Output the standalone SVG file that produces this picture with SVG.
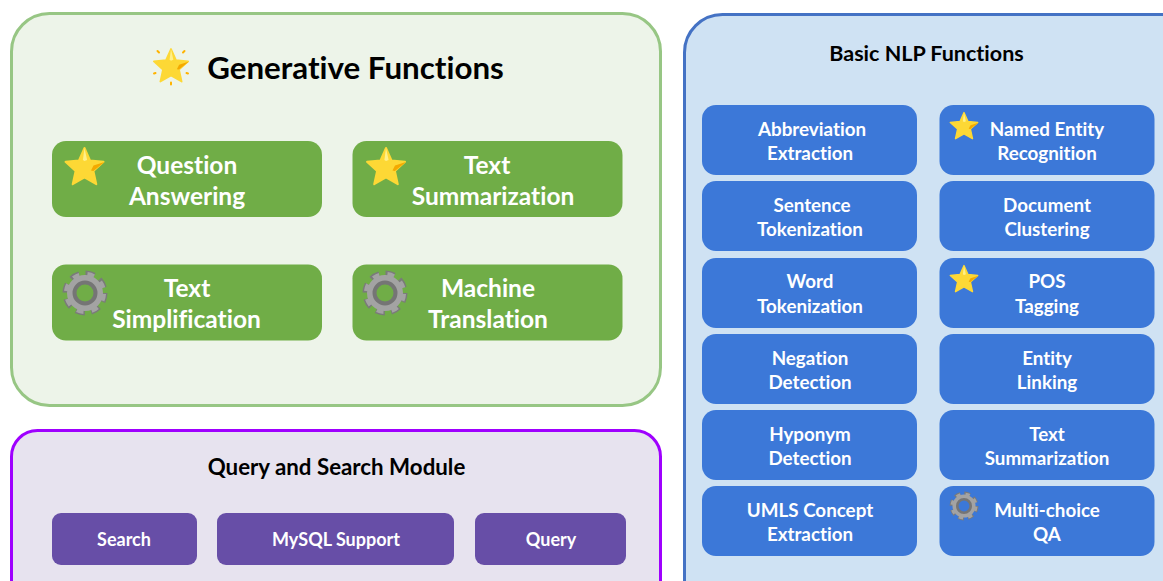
<svg xmlns="http://www.w3.org/2000/svg" xmlns:xlink="http://www.w3.org/1999/xlink" width="1163" height="581" viewBox="0 0 1163 581">
<style>
text{font-family:Lato,"Open Sans",sans-serif;font-weight:700;text-anchor:middle;font-variant-ligatures:none}
.g{fill:#70ad47}.b{fill:#3c78d8}.p{fill:#674ea7}
.tg{fill:#fff;font-size:24.5px}.tb{fill:#fff;font-size:18.8px}.tp{fill:#fff;font-size:18px}
.h{fill:#000;font-size:21.5px}
</style>
<defs>
<g id="star">
<path d="M0,-20 5.5,-7.6 19,-6.2 8.9,2.9 11.8,16.2 0,9.4 -11.8,16.2 -8.9,2.9 -19,-6.2 -5.5,-7.6Z" fill="#fdd835" stroke="#fdd835" stroke-width="2" stroke-linejoin="round"/>
<path d="M0,-20 2.6,-8 0,-7 -1.6,-8Z" fill="#fff08a"/>
<path d="M20,-6 9,-2.5 6.5,2.5 8.9,2.9Z" fill="#f4a900"/>
</g>
<g id="gear" fill="none">
<circle r="18.500" stroke="#7a7a7a" stroke-width="8" stroke-dasharray="8.500 6.020"/>
<circle r="18.300" stroke="#a3a3a3" stroke-width="5.500" stroke-dasharray="6.500 8.020" stroke-dashoffset="-1"/>
<circle r="14.500" stroke="#a3a3a3" stroke-width="7"/>
<circle r="10.500" stroke="#757575" stroke-width="4"/>
</g>
</defs>
<g id="generative-panel">
<rect x="11.500" y="13.500" width="649" height="392" rx="38" fill="#edf4e9" stroke="#97c684" stroke-width="3"/>
<use xlink:href="#star" href="#star" transform="translate(171,67) scale(.9)"/>
<g stroke="#ffb300" stroke-width="2" stroke-linecap="round"><path d="M171,82.500V84.500M159,52.500l-1.500,-1.500M183,52.500l1.500,-1.500M155.500,73l-1.500,.5M186.500,73l1.500,.5"/></g>
<text x="355.500" y="78.500" style="font-size:31.300px">Generative Functions</text>
</g>
<g id="question-answering"><rect class="g" x="52" y="141" width="270" height="76" rx="14"/><use href="#star" transform="translate(84.500,168)"/><text class="tg" x="187" y="174">Question</text><text class="tg" x="187" y="205">Answering</text></g>
<g id="text-summarization"><rect class="g" x="352.500" y="141" width="270" height="76" rx="14"/><use href="#star" transform="translate(386,168)"/><text class="tg" x="487" y="174">Text</text><text class="tg" x="493" y="205">Summarization</text></g>
<g id="text-simplification"><rect class="g" x="52" y="264.500" width="270" height="76" rx="14"/><use href="#gear" transform="translate(85,293)"/><text class="tg" x="187" y="297">Text</text><text class="tg" x="186.500" y="328">Simplification</text></g>
<g id="machine-translation"><rect class="g" x="352.500" y="264.500" width="270" height="76" rx="14"/><use href="#gear" transform="translate(385,293)"/><text class="tg" x="488" y="297">Machine</text><text class="tg" x="488" y="328">Translation</text></g>
<g id="query-panel">
<rect x="11.500" y="430.500" width="649" height="190" rx="26" fill="#e7e3ef" stroke="#9f00ff" stroke-width="3"/>
<text class="h" x="336.500" y="474.500" style="font-size:22.300px">Query and Search Module</text>
</g>
<g id="search"><rect class="p" x="52" y="513" width="145" height="52" rx="9"/><text class="tp" x="124" y="545.500">Search</text></g>
<g id="mysql"><rect class="p" x="217" y="513" width="237" height="52" rx="9"/><text class="tp" x="336" y="545.500">MySQL Support</text></g>
<g id="query"><rect class="p" x="475" y="513" width="151" height="52" rx="9"/><text class="tp" x="551" y="545.500">Query</text></g>
<g id="nlp-panel">
<rect x="684.500" y="14.500" width="520" height="610" rx="38" fill="#cfe2f3" stroke="#4472c4" stroke-width="3"/>
<text class="h" x="926.500" y="61">Basic NLP Functions</text>
</g>
<g id="abbr"><rect class="b" x="702" y="105" width="215" height="70" rx="14"/><text class="tb" x="812" y="135.500">Abbreviation</text><text class="tb" x="810" y="159.500">Extraction</text></g>
<g id="sent"><rect class="b" x="702" y="181" width="215" height="70" rx="14"/><text class="tb" x="812" y="212">Sentence</text><text class="tb" x="810" y="236">Tokenization</text></g>
<g id="word"><rect class="b" x="702" y="258" width="215" height="70" rx="14"/><text class="tb" x="810" y="288">Word</text><text class="tb" x="810" y="312.500">Tokenization</text></g>
<g id="neg"><rect class="b" x="702" y="334" width="215" height="70" rx="14"/><text class="tb" x="810" y="365">Negation</text><text class="tb" x="810" y="388.500">Detection</text></g>
<g id="hypo"><rect class="b" x="702" y="410" width="215" height="70" rx="14"/><text class="tb" x="810" y="441">Hyponym</text><text class="tb" x="810" y="465">Detection</text></g>
<g id="umls"><rect class="b" x="702" y="486" width="215" height="70" rx="14"/><text class="tb" x="810" y="517">UMLS Concept</text><text class="tb" x="810" y="541">Extraction</text></g>
<g id="ner"><rect class="b" x="939.500" y="105" width="215" height="70" rx="14"/><use href="#star" transform="translate(964,127) scale(.72)"/><text class="tb" x="1047" y="135.500">Named Entity</text><text class="tb" x="1047" y="159.500">Recognition</text></g>
<g id="doc"><rect class="b" x="939.500" y="181" width="215" height="70" rx="14"/><text class="tb" x="1047" y="212">Document</text><text class="tb" x="1047" y="236">Clustering</text></g>
<g id="pos"><rect class="b" x="939.500" y="258" width="215" height="70" rx="14"/><use href="#star" transform="translate(964,280) scale(.72)"/><text class="tb" x="1047" y="288">POS</text><text class="tb" x="1047" y="312.500">Tagging</text></g>
<g id="link"><rect class="b" x="939.500" y="334" width="215" height="70" rx="14"/><text class="tb" x="1047" y="365">Entity</text><text class="tb" x="1047" y="388.500">Linking</text></g>
<g id="tsum"><rect class="b" x="939.500" y="410" width="215" height="70" rx="14"/><text class="tb" x="1047" y="441">Text</text><text class="tb" x="1047" y="465">Summarization</text></g>
<g id="mcqa"><rect class="b" x="939.500" y="486" width="215" height="70" rx="14"/><use href="#gear" transform="translate(964,506) scale(.64)"/><text class="tb" x="1047" y="517">Multi-choice</text><text class="tb" x="1047" y="541">QA</text></g>
<g id="connectors"/>
</svg>
